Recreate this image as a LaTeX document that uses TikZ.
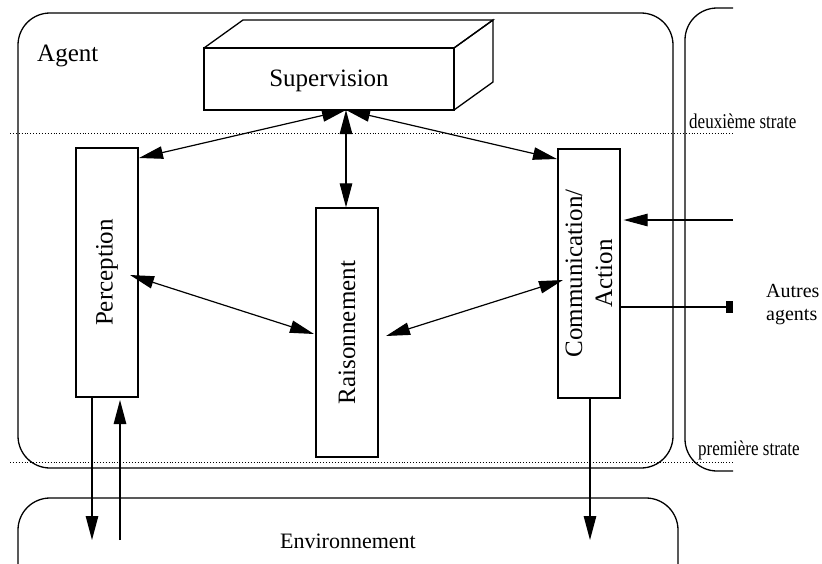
\documentclass[tikz,border=0pt]{standalone}
\usepackage{fontspec}
\setmainfont{Liberation Serif}
\usetikzlibrary{arrows.meta}

\begin{document}
\begin{tikzpicture}[x=1pt,y=-1pt,
  frame/.style={draw, line width=1.3pt, rounded corners=32pt},
  box/.style={draw, line width=1.3pt, fill=white, inner sep=0pt},
  biglabel/.style={font=\fontsize{25}{30}\selectfont},
  link/.style={line width=1.2pt, -{Triangle[length=24pt,width=12.5pt]}},
  dlink/.style={line width=1.2pt, {Triangle[length=24pt,width=12.5pt]}-{Triangle[length=24pt,width=12.5pt]}},
  strate/.style={line width=0.9pt, dotted},
  stratelabel/.style={anchor=base west, inner sep=0pt, font=\fontsize{21}{24}\selectfont}
]
\useasboundingbox (0,0) rectangle (822,563);
\clip (0,0) rectangle (822,563);

% strata separators
\coordinate (s2w) at (10,133);
\coordinate (s2e) at (733,133);
\coordinate (s1w) at (10,462);
\coordinate (s1e) at (733,462);
\draw[strate] (s2w) -- (s2e);
\draw[strate] (s1w) -- (s1e);
\node[stratelabel] (s2lab) at (689,128) {\scalebox{0.81}[1]{deuxième strate}};
\node[stratelabel] (s1lab) at (698,455) {\scalebox{0.81}[1]{première strate}};

% agent frame
\draw[frame] (18,13) rectangle (673,468);
\node[biglabel, anchor=base west, inner sep=0pt] (agent) at (37,61) {Agent};

% other agents frame (open on the right)
\draw[frame] (733,8) -- (685,8) -- (685,471) -- (733,471);
\node[anchor=base west, inner sep=0pt, font=\fontsize{20}{23}\selectfont] (autres1) at (766,297) {Autres};
\node[anchor=base west, inner sep=0pt, font=\fontsize{20}{23}\selectfont] (autres2) at (766,320) {agents};

% environment frame
\draw[frame] (18,640) -- (18,498) -- (678,498) -- (678,640);
\node[anchor=base, inner sep=0pt, font=\fontsize{22}{26}\selectfont] (env) at (348,548) {Environnement};

% supervision block drawn as a cuboid
\draw[line width=1.3pt, line join=miter] (204,48) -- (243,20) -- (493,20) -- (454,48);
\draw[line width=1.3pt, line join=miter] (454,48) -- (493,20) -- (493,82) -- (454,110);
\node[box, minimum width=250pt, minimum height=62pt] (sup) at (329,79) {};
\node[biglabel, anchor=base, inner sep=0pt] (suplab) at (329,86) {Supervision};

% modules of the first stratum
\node[box, biglabel, rotate=90, minimum width=249pt, minimum height=62pt] (perc) at (107,272.5) {Perception};
\node[box, biglabel, rotate=90, minimum width=249pt, minimum height=62pt] (rais) at (347,332.5) {Raisonnement};
\node[box, biglabel, rotate=90, minimum width=249pt, minimum height=62pt, align=center] (comm) at (589,273.5) {Communication/\\Action};

% attachment points of the links
\coordinate (hub) at (346,110);
\coordinate (percTop) at (139,158);
\coordinate (commTop) at (557,159);
\coordinate (percMid) at (130,275);
\coordinate (raisL) at (314,334);
\coordinate (raisR) at (386,336);
\coordinate (commMid) at (563,280);
\coordinate (fromOthers) at (733,220);
\coordinate (toOthers) at (733,307);
\coordinate (percOut) at (92,540);
\coordinate (percIn) at (120,540);
\coordinate (commOut) at (590,540);

% links
\draw[dlink] (hub) -- (percTop);
\draw[dlink] (hub) -- (hub |- rais.east);
\draw[dlink] (hub) -- (commTop);
\draw[dlink] (percMid) -- (raisL);
\draw[dlink] (raisR) -- (commMid);
\draw[link] (fromOthers) -- ([xshift=3pt]comm.south |- fromOthers);
\draw[line width=1.2pt, -{Square[length=7pt,width=12pt]}] (comm.south |- toOthers) -- (toOthers);
\draw[link] (92,397) -- (percOut);
\draw[link] (percIn) -- (120,400);
\draw[link] (590,398) -- (commOut);
\end{tikzpicture}
\end{document}
